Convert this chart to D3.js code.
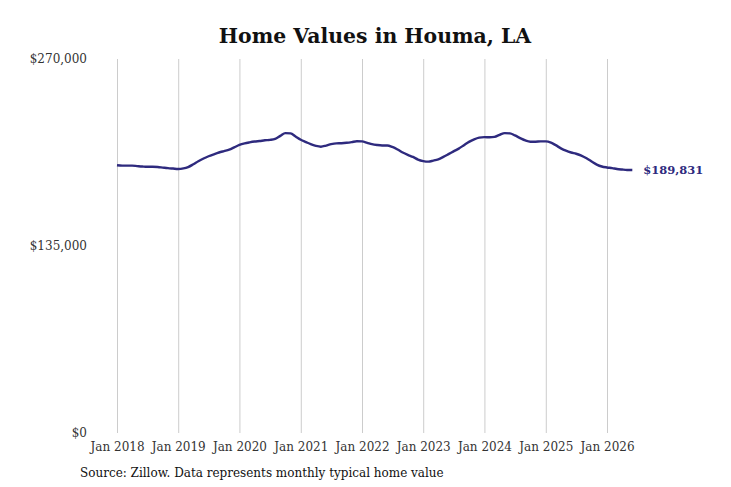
<!DOCTYPE html>
<html>
<head>
<meta charset="utf-8">
<script src="https://cdn.jsdelivr.net/npm/d3@7"></script>
<style>
  body { margin: 0; background: #fff; }
  svg { display: block; font-family: "DejaVu Serif", serif; }
</style>
</head>
<body>
<div id="chart"></div>
<script>
// monthly typical home value, Jan 2018 .. Jun 2026
const startYear = 2018;
const homeValues = [
  193300, 193000, 193000, 193000, 192700, 192400, 192200, 192200, 192000, 191600, 191200, 190900,
  190600, 191000, 192000, 194000, 196200, 198200, 199800, 201200, 202500, 203500, 204500, 206200,
  208000, 209100, 209800, 210400, 210800, 211300, 211600, 212300, 214500, 216500, 216300, 214000,
  211700, 210000, 208500, 207300, 206700, 207500, 208500, 209100, 209200, 209500, 210000, 210600,
  210500, 209500, 208500, 207900, 207600, 207600, 206500, 204700, 202500, 200800, 199300, 197400,
  196300, 195900, 196600, 197600, 199300, 201300, 203300, 205300, 207800, 210200, 212000, 213200,
  213600, 213500, 213800, 215300, 216500, 216300, 214800, 212900, 211200, 210300, 210300, 210500,
  210500, 209600, 207800, 205500, 203800, 202500, 201600, 200300, 198300, 196000, 193800, 192400,
  191700, 191200, 190600, 190200, 189900, 189831
];
const tickYears = [2018, 2019, 2020, 2021, 2022, 2023, 2024, 2025, 2026];
const yTicks = [0, 135000, 270000];
const lastLabel = '$189,831';

const width = 731, height = 487;
const lineColor = '#2e2a7e';

const data = homeValues.map((v, i) => ({ date: new Date(startYear, i, 1), value: v }));

const svg = d3.select('#chart')
  .append('svg')
  .attr('width', width)
  .attr('height', height);

const xScale = d3.scaleTime()
  .domain([new Date(2018, 0, 1), new Date(2026, 0, 1)])
  .range([117, 607]);

const yScale = d3.scaleLinear()
  .domain([0, 270000])
  .range([433, 59]);

/* title */
svg.append('text')
  .text('Home Values in Houma, LA')
  .attr('x', 375)
  .attr('y', 43)
  .attr('text-anchor', 'middle')
  .style('font-size', '20.4px')
  .style('font-weight', 'bold')
  .attr('fill', '#111');

/* vertical gridlines + x labels */
const xAxis = d3.axisBottom(xScale)
  .tickValues(tickYears.map(y => new Date(y, 0, 1)))
  .tickSize(-(433 - 59))
  .tickPadding(9)
  .tickFormat(d3.timeFormat('Jan %Y'));

const gx = svg.append('g')
  .attr('transform', 'translate(0,433)')
  .call(xAxis);
gx.select('.domain').remove();
gx.selectAll('line').attr('stroke', '#cccccc');
gx.selectAll('text')
  .attr('fill', '#333')
  .style('font-size', '12px')
  .style('font-family', '"DejaVu Serif", serif');

/* y labels */
const yAxis = d3.axisLeft(yScale)
  .tickValues(yTicks)
  .tickSize(0)
  .tickPadding(0)
  .tickFormat(d => '$' + d3.format(',')(d));

const gy = svg.append('g')
  .attr('transform', 'translate(87,0)')
  .call(yAxis);
gy.select('.domain').remove();
gy.selectAll('text')
  .attr('fill', '#333')
  .style('font-size', '12px')
  .style('font-family', '"DejaVu Serif", serif');

/* line */
const line = d3.line()
  .x(d => xScale(d.date))
  .y(d => yScale(d.value))
  .curve(d3.curveMonotoneX);

svg.append('path')
  .datum(data)
  .attr('fill', 'none')
  .attr('stroke', lineColor)
  .attr('stroke-width', 2.4)
  .attr('d', line);

/* end label */
const last = data[data.length - 1];
svg.append('text')
  .text(lastLabel)
  .attr('x', xScale(last.date) + 11)
  .attr('y', yScale(last.value))
  .attr('dy', '0.35em')
  .style('font-size', '11.5px')
  .style('font-weight', 'bold')
  .attr('fill', lineColor);

/* source */
svg.append('text')
  .text('Source: Zillow. Data represents monthly typical home value')
  .attr('x', 80)
  .attr('y', 477)
  .style('font-size', '12px')
  .attr('fill', '#111');
</script>
</body>
</html>
